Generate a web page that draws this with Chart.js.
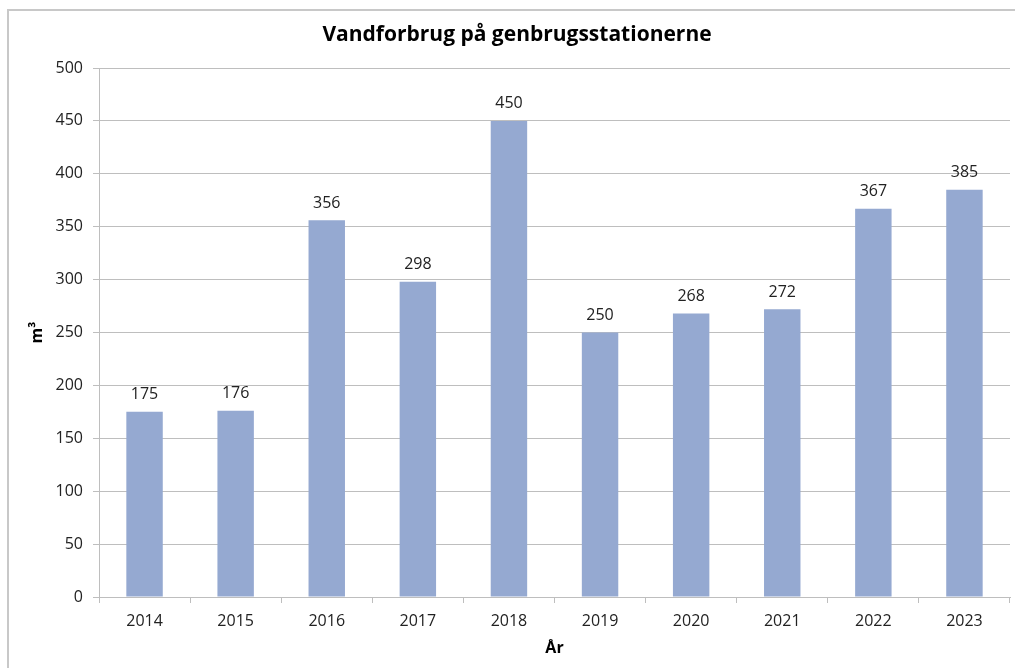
<!DOCTYPE html>
<html>
<head>
<meta charset="utf-8">
<script src="https://cdn.jsdelivr.net/npm/chart.js@4.4.1/dist/chart.umd.min.js"></script>
<style>
  html, body { margin: 0; padding: 0; background: #fff; }
  #wrap { width: 1015px; height: 668px; position: relative; }
</style>
</head>
<body>
<div id="wrap"><canvas id="waterChart"></canvas></div>
<script>
// data
const years = ['2014', '2015', '2016', '2017', '2018', '2019', '2020', '2021', '2022', '2023'];
const waterUse = [175, 176, 356, 298, 450, 250, 268, 272, 367, 385];
const yTicks = [0, 50, 100, 150, 200, 250, 300, 350, 400, 450, 500];

const FONT = '"Open Sans", "Liberation Sans", sans-serif';
const gridGrey = '#BEBEBE';

// outer frame + title drawn on the canvas
const frame = {
    id: 'frame',
    beforeDraw(chart) {
        const c = chart.ctx;
        c.save();
        c.fillStyle = '#fff';
        c.fillRect(0, 0, chart.width, chart.height);
        c.strokeStyle = '#C8C8C8';
        c.lineWidth = 2;
        c.beginPath();
        c.moveTo(1016, 10);
        c.lineTo(8, 10);
        c.lineTo(8, 670);
        c.stroke();
        c.fillStyle = '#000';
        c.font = 'bold 21px ' + FONT;
        c.textAlign = 'center';
        c.textBaseline = 'middle';
        c.fillText('Vandforbrug på genbrugsstationerne', 517, 35);
        c.restore();
    }
};

// value labels above each bar
const barValues = {
    id: 'barValues',
    afterDatasetsDraw(chart) {
        const c = chart.ctx;
        const meta = chart.getDatasetMeta(0);
        c.save();
        c.fillStyle = '#222';
        c.font = '16px ' + FONT;
        c.textAlign = 'center';
        c.textBaseline = 'middle';
        meta.data.forEach((bar, i) => {
            c.fillText(waterUse[i], bar.x, bar.y - 17);
        });
        c.restore();
    }
};

const ctx = document.getElementById('waterChart').getContext('2d');

new Chart(ctx, {
    type: 'bar',
    data: {
        labels: years,
        datasets: [{
            data: waterUse,
            backgroundColor: '#95A9D1',
            barPercentage: 0.4,
            categoryPercentage: 1.0
        }]
    },
    options: {
        responsive: true,
        maintainAspectRatio: false,
        animation: false,
        layout: { padding: { top: 68, right: 5, left: 0, bottom: 0 } },
        plugins: {
            legend: { display: false },
            tooltip: { enabled: false }
        },
        scales: {
            x: {
                grid: {
                    offset: true,
                    drawOnChartArea: false,
                    color: gridGrey,
                    tickLength: 6
                },
                border: { color: gridGrey, width: 1 },
                ticks: { color: '#222', font: { family: FONT, size: 16 }, padding: 9 },
                title: {
                    display: true,
                    text: 'År',
                    color: '#000',
                    font: { family: FONT, size: 16, weight: 'bold' },
                    padding: { top: 2, bottom: 10 }
                },
                afterFit(scale) { scale.height = 71; }
            },
            y: {
                min: 0,
                max: 500,
                afterBuildTicks(scale) {
                    scale.ticks = yTicks.map(v => ({ value: v }));
                },
                grid: { color: gridGrey, tickLength: 6 },
                border: { color: gridGrey, width: 1 },
                ticks: { color: '#222', font: { family: FONT, size: 16 }, padding: 10 },
                title: {
                    display: true,
                    text: 'm³',
                    color: '#000',
                    font: { family: FONT, size: 16, weight: 'bold' },
                    padding: { top: 28, bottom: 0 }
                },
                afterFit(scale) { scale.width = 99; }
            }
        }
    },
    plugins: [frame, barValues]
});
</script>
</body>
</html>
